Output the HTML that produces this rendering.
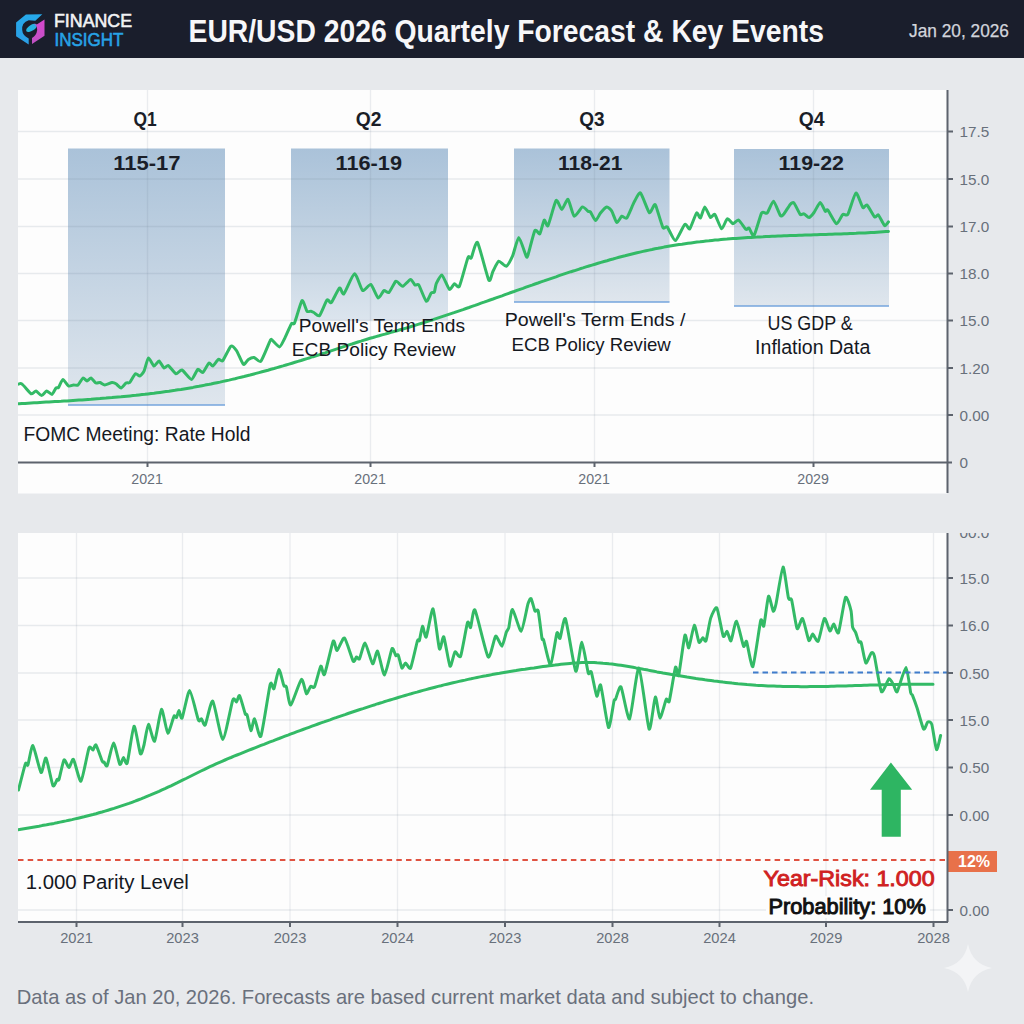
<!DOCTYPE html>
<html><head><meta charset="utf-8"><title>EUR/USD 2026 Forecast</title>
<style>html,body{margin:0;padding:0;width:1024px;height:1024px;overflow:hidden;background:#e7e9ec;font-family:"Liberation Sans",sans-serif;} svg{display:block;}</style>
</head><body>
<svg width="1024" height="1024" viewBox="0 0 1024 1024">
<rect x="0" y="0" width="1024" height="1024" fill="#e7e9ec"/>
<rect x="0" y="0" width="1024" height="58" fill="#1a1e2c"/>
<defs><linearGradient id="lgB" x1="0" y1="0" x2="0" y2="1"><stop offset="0" stop-color="#26a9ea"/><stop offset="1" stop-color="#2b9ee6"/></linearGradient><linearGradient id="lgM" x1="0" y1="0" x2="0" y2="1"><stop offset="0" stop-color="#d847cf"/><stop offset="1" stop-color="#bf52c3"/></linearGradient><linearGradient id="lgL" x1="0" y1="0" x2="1" y2="0"><stop offset="0" stop-color="#22b8e2"/><stop offset="0.8" stop-color="#2ab0e0"/><stop offset="1" stop-color="#c74bc8"/></linearGradient></defs>
<path d="M16.1,22.5 L25.9,14.6 L42.3,14.3 L35.3,20.7 L28.7,20.2 Q21.5,22.5 22.2,30 Q22.5,35.5 28.7,38.5 L28.7,44.6 L16.1,36.3 Z" fill="url(#lgB)"/>
<path d="M36,24.9 L44.5,19.5 L44.5,35.7 L32,44.1 L32,38 Q36.5,35.5 37.2,30 Q37.5,27 36,24.9 Z" fill="url(#lgM)"/>
<ellipse cx="31.6" cy="27.9" rx="6.2" ry="2.9" transform="rotate(-33 31.6 27.9)" fill="url(#lgL)"/>
<text x="54" y="26.6" font-family='"Liberation Sans", sans-serif' font-size="17.5" fill="#f2f3f5" stroke="#f2f3f5" stroke-width="0.55" textLength="78" lengthAdjust="spacingAndGlyphs">FINANCE</text>
<text x="54.5" y="45.6" font-family='"Liberation Sans", sans-serif' font-size="17.5" fill="#27a3e6" stroke="#27a3e6" stroke-width="0.55" textLength="69" lengthAdjust="spacingAndGlyphs">INSIGHT</text>
<text x="188.5" y="41.6" font-family='"Liberation Sans", sans-serif' font-size="31.3" font-weight="bold" fill="#f7f7f9" textLength="635.5" lengthAdjust="spacingAndGlyphs">EUR/USD 2026 Quartely Forecast &amp; Key Events</text>
<text x="909" y="37.4" font-family='"Liberation Sans", sans-serif' font-size="17.7" fill="#d2d5dc" stroke="#d2d5dc" stroke-width="0.25" textLength="100"  lengthAdjust="spacingAndGlyphs">Jan 20, 2026</text>
<defs><clipPath id="cpT"><rect x="18" y="90" width="929" height="372"/></clipPath><clipPath id="cpB"><rect x="18" y="533" width="929" height="389"/></clipPath><clipPath id="cpL"><rect x="940" y="533" width="84" height="491"/></clipPath><linearGradient id="bx" x1="0" y1="0" x2="0" y2="1"><stop offset="0" stop-color="#aac2d9"/><stop offset="1" stop-color="#dfe6ed"/></linearGradient><linearGradient id="bx2" x1="0" y1="0" x2="0" y2="1"><stop offset="0" stop-color="#aac2d9"/><stop offset="0.7" stop-color="#cad8e5"/><stop offset="1" stop-color="#dce5ee"/></linearGradient></defs>
<rect x="18" y="90" width="929" height="403.5" fill="#fdfdfd"/>
<rect x="68" y="148.5" width="157" height="256.5" fill="url(#bx)"/>
<line x1="68" y1="405" x2="225" y2="405" stroke="#74a5dc" stroke-width="1.6"/>
<rect x="291" y="148.5" width="157" height="172" fill="url(#bx2)"/>
<rect x="514" y="148.5" width="155.5" height="153.5" fill="url(#bx)"/>
<line x1="514" y1="302" x2="669.5" y2="302" stroke="#74a5dc" stroke-width="1.6"/>
<rect x="734" y="149" width="155" height="157" fill="url(#bx)"/>
<line x1="734" y1="306" x2="889" y2="306" stroke="#74a5dc" stroke-width="1.6"/>
<line x1="18" y1="131.5" x2="947" y2="131.5" stroke="rgba(110,125,145,0.15)" stroke-width="1.3"/><line x1="18" y1="179" x2="947" y2="179" stroke="rgba(110,125,145,0.15)" stroke-width="1.3"/><line x1="18" y1="226.5" x2="947" y2="226.5" stroke="rgba(110,125,145,0.15)" stroke-width="1.3"/><line x1="18" y1="273.5" x2="947" y2="273.5" stroke="rgba(110,125,145,0.15)" stroke-width="1.3"/><line x1="18" y1="320.5" x2="947" y2="320.5" stroke="rgba(110,125,145,0.15)" stroke-width="1.3"/><line x1="18" y1="368" x2="947" y2="368" stroke="rgba(110,125,145,0.15)" stroke-width="1.3"/><line x1="18" y1="415" x2="947" y2="415" stroke="rgba(110,125,145,0.15)" stroke-width="1.3"/>
<line x1="147.5" y1="90" x2="147.5" y2="462" stroke="rgba(110,125,145,0.13)" stroke-width="1.3"/><line x1="370.5" y1="90" x2="370.5" y2="462" stroke="rgba(110,125,145,0.13)" stroke-width="1.3"/><line x1="594.5" y1="90" x2="594.5" y2="462" stroke="rgba(110,125,145,0.13)" stroke-width="1.3"/><line x1="813.5" y1="90" x2="813.5" y2="462" stroke="rgba(110,125,145,0.13)" stroke-width="1.3"/>
<text x="133.39999999999998" y="125.6" font-family='"Liberation Sans", sans-serif' font-size="21" font-weight="bold" fill="#1a1e28" textLength="23.200000000000006" lengthAdjust="spacingAndGlyphs">Q1</text>
<text x="355.8" y="125.6" font-family='"Liberation Sans", sans-serif' font-size="21" font-weight="bold" fill="#1a1e28" textLength="25.699999999999978" lengthAdjust="spacingAndGlyphs">Q2</text>
<text x="579.2" y="125.6" font-family='"Liberation Sans", sans-serif' font-size="21" font-weight="bold" fill="#1a1e28" textLength="25.400000000000023" lengthAdjust="spacingAndGlyphs">Q3</text>
<text x="798.7" y="125.6" font-family='"Liberation Sans", sans-serif' font-size="21" font-weight="bold" fill="#1a1e28" textLength="25.8" lengthAdjust="spacingAndGlyphs">Q4</text>
<text x="113.2" y="169.5" font-family='"Liberation Sans", sans-serif' font-size="21" font-weight="bold" fill="#1a1e28" textLength="67.39999999999999" lengthAdjust="spacingAndGlyphs">115-17</text>
<text x="335.6" y="169.5" font-family='"Liberation Sans", sans-serif' font-size="21" font-weight="bold" fill="#1a1e28" textLength="66.39999999999998" lengthAdjust="spacingAndGlyphs">116-19</text>
<text x="558" y="169.5" font-family='"Liberation Sans", sans-serif' font-size="21" font-weight="bold" fill="#1a1e28" textLength="64.5" lengthAdjust="spacingAndGlyphs">118-21</text>
<text x="778.5" y="169.5" font-family='"Liberation Sans", sans-serif' font-size="21" font-weight="bold" fill="#1a1e28" textLength="65.5" lengthAdjust="spacingAndGlyphs">119-22</text>
<g clip-path="url(#cpT)">
<path d="M16.0,403.9 L19.0,403.7 L22.0,403.5 L25.0,403.4 L28.0,403.2 L31.0,403.0 L34.0,402.8 L37.0,402.7 L40.0,402.5 L43.0,402.3 L46.0,402.1 L49.0,402.0 L52.0,401.8 L55.0,401.6 L58.0,401.4 L61.0,401.3 L64.0,401.1 L67.0,400.9 L70.0,400.7 L73.0,400.5 L76.0,400.3 L79.0,400.1 L82.0,399.9 L85.0,399.7 L88.0,399.5 L91.0,399.3 L94.0,399.0 L97.0,398.8 L100.0,398.6 L103.0,398.3 L106.0,398.1 L109.0,397.8 L112.0,397.6 L115.0,397.3 L118.0,397.0 L121.0,396.8 L124.0,396.5 L127.0,396.2 L130.0,395.9 L133.0,395.6 L136.0,395.3 L139.0,394.9 L142.0,394.6 L145.0,394.3 L148.0,393.9 L151.0,393.5 L154.0,393.2 L157.0,392.8 L160.0,392.4 L163.0,392.0 L166.0,391.6 L169.0,391.2 L172.0,390.7 L175.0,390.3 L178.0,389.8 L181.0,389.4 L184.0,388.9 L187.0,388.4 L190.0,387.9 L193.0,387.4 L196.0,386.8 L199.0,386.3 L202.0,385.7 L205.0,385.1 L208.0,384.6 L211.0,384.0 L214.0,383.3 L217.0,382.7 L220.0,382.1 L223.0,381.4 L226.0,380.7 L229.0,380.1 L232.0,379.4 L235.0,378.7 L238.0,377.9 L241.0,377.2 L244.0,376.5 L247.0,375.7 L250.0,375.0 L253.0,374.2 L256.0,373.4 L259.0,372.6 L262.0,371.8 L265.0,371.0 L268.0,370.2 L271.0,369.3 L274.0,368.5 L277.0,367.6 L280.0,366.7 L283.0,365.9 L286.0,365.0 L289.0,364.1 L292.0,363.2 L295.0,362.3 L298.0,361.4 L301.0,360.5 L304.0,359.5 L307.0,358.6 L310.0,357.7 L313.0,356.7 L316.0,355.8 L319.0,354.8 L322.0,353.8 L325.0,352.9 L328.0,351.9 L331.0,350.9 L334.0,349.9 L337.0,348.9 L340.0,347.9 L343.0,346.9 L346.0,345.9 L349.0,344.9 L352.0,344.0 L355.0,343.0 L358.0,342.0 L361.0,341.1 L364.0,340.1 L367.0,339.2 L370.0,338.3 L373.0,337.5 L376.0,336.6 L379.0,335.8 L382.0,334.9 L385.0,334.1 L388.0,333.2 L391.0,332.4 L394.0,331.5 L397.0,330.7 L400.0,329.8 L403.0,329.0 L406.0,328.1 L409.0,327.2 L412.0,326.3 L415.0,325.4 L418.0,324.4 L421.0,323.5 L424.0,322.6 L427.0,321.6 L430.0,320.6 L433.0,319.7 L436.0,318.7 L439.0,317.7 L442.0,316.7 L445.0,315.7 L448.0,314.7 L451.0,313.7 L454.0,312.7 L457.0,311.6 L460.0,310.6 L463.0,309.6 L466.0,308.5 L469.0,307.5 L472.0,306.4 L475.0,305.4 L478.0,304.3 L481.0,303.2 L484.0,302.2 L487.0,301.1 L490.0,300.0 L493.0,299.0 L496.0,297.9 L499.0,296.8 L502.0,295.8 L505.0,294.7 L508.0,293.6 L511.0,292.5 L514.0,291.5 L517.0,290.4 L520.0,289.3 L523.0,288.3 L526.0,287.2 L529.0,286.1 L532.0,285.1 L535.0,284.0 L538.0,283.0 L541.0,281.9 L544.0,280.9 L547.0,279.8 L550.0,278.8 L553.0,277.8 L556.0,276.8 L559.0,275.7 L562.0,274.7 L565.0,273.7 L568.0,272.7 L571.0,271.7 L574.0,270.8 L577.0,269.8 L580.0,268.8 L583.0,267.9 L586.0,266.9 L589.0,266.0 L592.0,265.1 L595.0,264.2 L598.0,263.3 L601.0,262.4 L604.0,261.5 L607.0,260.7 L610.0,259.8 L613.0,259.0 L616.0,258.1 L619.0,257.3 L622.0,256.5 L625.0,255.8 L628.0,255.0 L631.0,254.2 L634.0,253.5 L637.0,252.8 L640.0,252.1 L643.0,251.4 L646.0,250.7 L649.0,250.1 L652.0,249.5 L655.0,248.8 L658.0,248.3 L661.0,247.7 L664.0,247.1 L667.0,246.6 L670.0,246.1 L673.0,245.6 L676.0,245.1 L679.0,244.6 L682.0,244.2 L685.0,243.7 L688.0,243.3 L691.0,242.9 L694.0,242.5 L697.0,242.1 L700.0,241.8 L703.0,241.4 L706.0,241.1 L709.0,240.8 L712.0,240.4 L715.0,240.1 L718.0,239.9 L721.0,239.6 L724.0,239.3 L727.0,239.1 L730.0,238.8 L733.0,238.6 L736.0,238.4 L739.0,238.2 L742.0,238.0 L745.0,237.8 L748.0,237.6 L751.0,237.4 L754.0,237.2 L757.0,237.1 L760.0,236.9 L763.0,236.8 L766.0,236.6 L769.0,236.5 L772.0,236.3 L775.0,236.2 L778.0,236.1 L781.0,236.0 L784.0,235.8 L787.0,235.7 L790.0,235.6 L793.0,235.5 L796.0,235.4 L799.0,235.3 L802.0,235.2 L805.0,235.1 L808.0,235.0 L811.0,234.9 L814.0,234.8 L817.0,234.7 L820.0,234.6 L823.0,234.5 L826.0,234.4 L829.0,234.3 L832.0,234.2 L835.0,234.1 L838.0,234.0 L841.0,233.9 L844.0,233.8 L847.0,233.7 L850.0,233.5 L853.0,233.4 L856.0,233.3 L859.0,233.1 L862.0,233.0 L865.0,232.9 L868.0,232.7 L871.0,232.5 L874.0,232.4 L877.0,232.2 L880.0,232.0 L883.0,231.8 L886.0,231.6 L888.4,231.4" fill="none" stroke="#33ba66" stroke-width="3" stroke-linecap="round" stroke-linejoin="round"/>
<path d="M16.0,385.0 C16.6,384.9 20.1,382.9 21.6,383.8 C23.1,384.6 29.6,393.0 31.0,393.8 C32.4,394.5 34.9,390.8 36.0,391.0 C37.1,391.2 40.5,395.6 41.6,395.6 C42.7,395.6 45.6,391.1 46.6,391.0 C47.6,390.9 51.1,394.7 52.0,394.4 C52.9,394.1 55.4,388.7 56.0,388.0 C56.6,387.3 57.8,388.4 58.5,387.5 C59.2,386.6 61.9,379.5 62.9,379.4 C63.9,379.2 67.4,385.4 68.5,386.0 C69.6,386.6 72.5,385.1 73.5,385.0 C74.5,384.9 77.0,385.7 78.0,385.0 C79.0,384.3 82.1,378.4 83.0,378.0 C83.9,377.6 86.2,381.0 87.0,381.0 C87.8,381.0 90.1,377.8 91.0,378.0 C91.9,378.2 95.1,382.6 96.0,383.0 C96.9,383.4 99.1,382.3 100.0,382.5 C100.9,382.7 103.5,385.0 104.8,385.0 C106.0,385.0 110.9,382.6 112.0,382.5 C113.1,382.4 115.1,383.2 116.0,383.8 C116.9,384.3 120.0,388.1 121.0,388.0 C122.0,387.9 125.1,383.6 126.0,383.0 C126.9,382.4 128.8,383.4 129.8,382.5 C130.7,381.6 134.4,374.4 135.4,373.8 C136.4,373.1 138.9,376.2 139.8,376.0 C140.6,375.8 143.1,373.1 144.0,371.2 C144.9,369.4 147.4,358.5 148.4,358.0 C149.4,357.5 152.9,365.7 154.0,366.0 C155.1,366.3 158.0,360.8 159.0,361.0 C160.0,361.2 163.1,367.5 164.0,368.0 C164.9,368.5 167.2,365.0 168.4,365.6 C169.6,366.2 174.6,373.3 176.0,373.8 C177.4,374.2 180.4,369.4 182.0,370.0 C183.6,370.6 189.9,379.5 191.5,379.4 C193.1,379.3 196.6,370.1 197.8,369.4 C198.9,368.7 201.6,373.1 202.8,372.5 C203.9,371.9 208.0,363.6 209.0,363.0 C210.0,362.4 211.8,366.4 212.8,366.0 C213.7,365.6 217.4,359.9 218.4,359.4 C219.4,358.9 221.5,361.9 222.8,360.6 C224.0,359.3 229.5,347.2 230.9,346.2 C232.3,345.2 235.2,348.8 236.5,350.6 C237.8,352.4 242.2,363.5 243.4,364.4 C244.6,365.3 247.3,360.1 248.4,359.4 C249.5,358.7 252.8,357.3 254.0,357.5 C255.2,357.7 259.3,362.9 260.9,361.2 C262.5,359.6 269.1,342.7 270.2,340.6 C271.4,338.5 271.1,339.4 272.0,340.0 C272.9,340.6 278.2,347.0 279.5,346.9 C280.8,346.8 283.3,341.1 284.5,338.8 C285.7,336.4 290.4,325.3 291.4,323.8 C292.4,322.2 293.4,325.3 294.5,323.0 C295.6,320.7 300.8,301.8 302.0,300.6 C303.2,299.4 306.1,310.2 307.0,311.2 C307.9,312.3 310.1,311.1 310.8,311.2 C311.4,311.4 313.0,312.1 313.9,312.5 C314.8,312.9 318.2,316.9 319.5,315.6 C320.8,314.4 325.8,301.3 327.0,300.0 C328.2,298.7 330.1,303.7 331.4,302.5 C332.6,301.3 338.2,288.9 339.5,288.0 C340.8,287.1 342.4,295.2 343.9,293.8 C345.4,292.3 352.6,274.1 354.5,273.8 C356.4,273.4 361.0,289.5 362.6,290.6 C364.2,291.7 369.2,283.7 370.8,284.4 C372.3,285.1 376.9,297.4 378.2,298.0 C379.6,298.6 382.8,291.2 383.9,290.6 C385.0,290.1 387.7,293.4 388.9,292.5 C390.1,291.6 394.6,282.1 395.8,281.2 C396.9,280.4 399.3,283.9 400.0,284.4 C400.7,284.9 401.9,286.8 403.0,286.2 C404.1,285.8 409.4,279.5 410.6,279.4 C411.8,279.3 414.2,284.4 415.0,285.0 C415.8,285.6 417.6,283.4 418.8,285.0 C419.9,286.6 425.0,300.4 426.2,301.2 C427.5,302.1 430.4,293.9 431.2,293.0 C432.1,292.1 433.9,292.8 434.4,291.9 C434.9,291.0 435.5,285.4 436.2,283.8 C437.0,282.1 440.6,274.4 441.9,275.0 C443.2,275.6 448.1,288.5 449.4,289.4 C450.6,290.3 453.4,284.1 454.4,283.8 C455.4,283.4 458.0,288.9 459.4,286.2 C460.8,283.6 466.8,260.3 468.0,257.5 C469.2,254.7 470.3,259.5 471.2,258.0 C472.2,256.5 475.8,240.3 477.5,242.5 C479.2,244.7 487.2,277.1 488.8,280.0 C490.3,282.9 492.0,273.1 493.0,271.2 C494.0,269.4 497.4,261.8 498.8,261.2 C500.1,260.8 504.9,266.8 506.2,266.2 C507.6,265.8 511.2,259.1 512.5,256.2 C513.8,253.4 517.4,237.5 518.8,237.5 C520.1,237.5 525.3,254.5 526.2,256.2 C527.2,258.0 527.1,257.6 528.0,255.0 C528.9,252.4 533.7,232.7 534.9,230.6 C536.1,228.5 539.0,234.8 539.9,233.8 C540.8,232.7 543.4,220.8 544.2,220.0 C545.1,219.2 546.8,227.5 548.0,225.6 C549.2,223.7 554.7,202.2 556.1,200.6 C557.5,199.0 560.6,209.5 561.8,209.4 C562.9,209.3 566.8,198.7 568.0,199.4 C569.2,200.1 572.8,215.5 574.2,216.2 C575.7,217.0 581.0,207.4 582.4,206.9 C583.8,206.4 587.2,210.7 588.0,211.2 C588.8,211.8 589.8,211.1 590.5,212.0 C591.2,212.9 594.5,220.5 595.5,220.6 C596.5,220.7 599.4,214.4 600.5,213.0 C601.6,211.6 605.6,207.1 606.8,206.9 C607.9,206.7 610.8,209.7 611.8,211.2 C612.8,212.8 615.8,222.0 616.8,222.5 C617.8,223.0 620.8,216.7 621.8,216.2 C622.8,215.8 625.5,219.4 626.8,218.0 C628.0,216.6 632.9,204.4 634.2,201.9 C635.6,199.4 639.0,191.9 640.5,193.0 C642.0,194.1 647.9,211.3 649.2,212.5 C650.6,213.7 653.6,205.6 654.2,205.0 C654.9,204.4 655.1,204.0 656.0,206.2 C656.9,208.5 661.8,225.4 662.9,227.5 C664.0,229.6 666.0,225.6 667.2,226.9 C668.5,228.2 673.6,240.8 675.4,240.6 C677.1,240.3 683.3,225.6 684.8,224.4 C686.2,223.2 688.6,229.9 689.8,228.8 C690.9,227.6 695.5,214.1 696.6,213.0 C697.7,211.9 699.6,218.6 700.4,218.0 C701.2,217.4 703.8,207.0 704.8,206.9 C705.8,206.8 709.4,216.8 710.4,217.5 C711.4,218.2 713.6,213.3 714.8,214.4 C715.9,215.5 720.4,228.3 721.6,228.8 C722.9,229.2 726.1,219.2 727.2,218.8 C728.4,218.2 731.8,223.6 732.9,223.8 C734.0,223.9 737.2,219.4 738.5,220.0 C739.8,220.6 745.0,228.6 746.0,229.4 C747.0,230.2 748.2,227.4 749.0,228.0 C749.8,228.6 752.7,237.1 754.0,235.6 C755.3,234.1 760.3,215.3 761.6,213.0 C762.9,210.7 766.1,214.2 767.2,213.0 C768.4,211.8 772.2,201.0 773.5,201.2 C774.8,201.5 779.4,214.3 780.4,215.6 C781.4,216.8 783.0,214.9 784.0,213.8 C785.0,212.6 789.2,205.5 790.2,204.4 C791.2,203.3 793.0,202.0 794.0,203.0 C795.0,204.0 799.2,213.3 800.2,214.4 C801.2,215.5 803.1,213.4 804.0,213.8 C804.9,214.1 808.0,217.6 809.0,217.5 C810.0,217.4 812.9,214.0 814.0,212.5 C815.1,211.0 819.1,202.6 820.2,202.5 C821.4,202.4 824.5,210.5 825.2,211.2 C826.0,212.0 826.6,208.8 827.8,210.0 C828.9,211.2 835.0,223.3 836.5,223.8 C838.0,224.2 841.6,215.3 842.8,214.4 C843.9,213.5 846.4,216.5 847.8,214.4 C849.1,212.3 854.4,193.7 855.9,193.0 C857.4,192.3 861.6,206.3 862.8,207.5 C863.9,208.7 865.8,204.1 867.0,205.0 C868.2,205.9 873.5,215.9 874.6,216.9 C875.7,217.9 877.4,214.1 878.4,215.0 C879.4,215.9 883.6,224.9 884.6,225.6 C885.6,226.3 888.0,222.3 888.4,221.9" fill="none" stroke="#33ba66" stroke-width="3" stroke-linecap="round" stroke-linejoin="round"/>
</g>
<text x="23.5" y="441.1" font-family='"Liberation Sans", sans-serif' font-size="20.5" font-weight="normal" fill="#15181f" textLength="226.9" lengthAdjust="spacingAndGlyphs">FOMC Meeting: Rate Hold</text>
<text x="298.8" y="331.9" font-family='"Liberation Sans", sans-serif' font-size="19" font-weight="normal" fill="#15181f" textLength="166.2" lengthAdjust="spacingAndGlyphs">Powell's Term Ends</text>
<text x="291.8" y="356.4" font-family='"Liberation Sans", sans-serif' font-size="19" font-weight="normal" fill="#15181f" textLength="163.89999999999998" lengthAdjust="spacingAndGlyphs">ECB Policy Review</text>
<text x="504.7" y="325.5" font-family='"Liberation Sans", sans-serif' font-size="19" font-weight="normal" fill="#15181f" textLength="180.7" lengthAdjust="spacingAndGlyphs">Powell's Term Ends /</text>
<text x="511.6" y="350.9" font-family='"Liberation Sans", sans-serif' font-size="19" font-weight="normal" fill="#15181f" textLength="159.19999999999993" lengthAdjust="spacingAndGlyphs">ECB Policy Review</text>
<text x="767.5" y="330" font-family='"Liberation Sans", sans-serif' font-size="19.5" font-weight="normal" fill="#15181f" textLength="85.20000000000005" lengthAdjust="spacingAndGlyphs">US GDP &amp;</text>
<text x="755.1" y="354.2" font-family='"Liberation Sans", sans-serif' font-size="19.5" font-weight="normal" fill="#15181f" textLength="115.19999999999993" lengthAdjust="spacingAndGlyphs">Inflation Data</text>
<line x1="18" y1="462.5" x2="952" y2="462.5" stroke="#5d636d" stroke-width="2"/>
<line x1="947.5" y1="90" x2="947.5" y2="493" stroke="#5d636d" stroke-width="2"/>
<line x1="947" y1="131.5" x2="953" y2="131.5" stroke="#5d636d" stroke-width="2"/>
<line x1="947" y1="179" x2="953" y2="179" stroke="#5d636d" stroke-width="2"/>
<line x1="947" y1="226.5" x2="953" y2="226.5" stroke="#5d636d" stroke-width="2"/>
<line x1="947" y1="273.5" x2="953" y2="273.5" stroke="#5d636d" stroke-width="2"/>
<line x1="947" y1="320.5" x2="953" y2="320.5" stroke="#5d636d" stroke-width="2"/>
<line x1="947" y1="368" x2="953" y2="368" stroke="#5d636d" stroke-width="2"/>
<line x1="947" y1="415" x2="953" y2="415" stroke="#5d636d" stroke-width="2"/>
<line x1="147.5" y1="462" x2="147.5" y2="467" stroke="#5d636d" stroke-width="2"/>
<line x1="370.5" y1="462" x2="370.5" y2="467" stroke="#5d636d" stroke-width="2"/>
<line x1="594.5" y1="462" x2="594.5" y2="467" stroke="#5d636d" stroke-width="2"/>
<line x1="813.5" y1="462" x2="813.5" y2="467" stroke="#5d636d" stroke-width="2"/>
<text x="959.5" y="137.2" font-family='"Liberation Sans", sans-serif' font-size="15.3" fill="#68707b">17.5</text>
<text x="959.5" y="184.7" font-family='"Liberation Sans", sans-serif' font-size="15.3" fill="#68707b">15.0</text>
<text x="959.5" y="232.2" font-family='"Liberation Sans", sans-serif' font-size="15.3" fill="#68707b">17.0</text>
<text x="959.5" y="279.2" font-family='"Liberation Sans", sans-serif' font-size="15.3" fill="#68707b">18.0</text>
<text x="959.5" y="326.2" font-family='"Liberation Sans", sans-serif' font-size="15.3" fill="#68707b">15.0</text>
<text x="959.5" y="373.7" font-family='"Liberation Sans", sans-serif' font-size="15.3" fill="#68707b">1.20</text>
<text x="959.5" y="420.7" font-family='"Liberation Sans", sans-serif' font-size="15.3" fill="#68707b">0.00</text>
<text x="959.5" y="468.2" font-family='"Liberation Sans", sans-serif' font-size="15.3" fill="#68707b">0</text>
<text x="131.3" y="483.9" font-family='"Liberation Sans", sans-serif' font-size="15" fill="#68707b" textLength="31.6" lengthAdjust="spacingAndGlyphs">2021</text>
<text x="354.3" y="483.9" font-family='"Liberation Sans", sans-serif' font-size="15" fill="#68707b" textLength="31.6" lengthAdjust="spacingAndGlyphs">2021</text>
<text x="578.3" y="483.9" font-family='"Liberation Sans", sans-serif' font-size="15" fill="#68707b" textLength="31.6" lengthAdjust="spacingAndGlyphs">2021</text>
<text x="797.3" y="483.9" font-family='"Liberation Sans", sans-serif' font-size="15" fill="#68707b" textLength="31.6" lengthAdjust="spacingAndGlyphs">2029</text>
<rect x="18" y="533" width="929" height="389" fill="#fdfdfd"/>
<line x1="18" y1="578" x2="947" y2="578" stroke="rgba(110,125,145,0.15)" stroke-width="1.3"/><line x1="18" y1="625.5" x2="947" y2="625.5" stroke="rgba(110,125,145,0.15)" stroke-width="1.3"/><line x1="18" y1="673" x2="947" y2="673" stroke="rgba(110,125,145,0.15)" stroke-width="1.3"/><line x1="18" y1="720" x2="947" y2="720" stroke="rgba(110,125,145,0.15)" stroke-width="1.3"/><line x1="18" y1="767.5" x2="947" y2="767.5" stroke="rgba(110,125,145,0.15)" stroke-width="1.3"/><line x1="18" y1="815" x2="947" y2="815" stroke="rgba(110,125,145,0.15)" stroke-width="1.3"/><line x1="18" y1="910" x2="947" y2="910" stroke="rgba(110,125,145,0.15)" stroke-width="1.3"/>
<line x1="76.5" y1="533" x2="76.5" y2="922" stroke="rgba(110,125,145,0.13)" stroke-width="1.3"/><line x1="182.5" y1="533" x2="182.5" y2="922" stroke="rgba(110,125,145,0.13)" stroke-width="1.3"/><line x1="290" y1="533" x2="290" y2="922" stroke="rgba(110,125,145,0.13)" stroke-width="1.3"/><line x1="397.5" y1="533" x2="397.5" y2="922" stroke="rgba(110,125,145,0.13)" stroke-width="1.3"/><line x1="505" y1="533" x2="505" y2="922" stroke="rgba(110,125,145,0.13)" stroke-width="1.3"/><line x1="612.5" y1="533" x2="612.5" y2="922" stroke="rgba(110,125,145,0.13)" stroke-width="1.3"/><line x1="719.5" y1="533" x2="719.5" y2="922" stroke="rgba(110,125,145,0.13)" stroke-width="1.3"/><line x1="826" y1="533" x2="826" y2="922" stroke="rgba(110,125,145,0.13)" stroke-width="1.3"/><line x1="933.5" y1="533" x2="933.5" y2="922" stroke="rgba(110,125,145,0.13)" stroke-width="1.3"/>
<g clip-path="url(#cpB)">
<path d="M18.0,829.7 L21.0,829.2 L24.0,828.7 L27.0,828.2 L30.0,827.7 L33.0,827.2 L36.0,826.7 L39.0,826.2 L42.0,825.6 L45.0,825.1 L48.0,824.5 L51.0,823.9 L54.0,823.4 L57.0,822.8 L60.0,822.1 L63.0,821.5 L66.0,820.9 L69.0,820.2 L72.0,819.6 L75.0,818.9 L78.0,818.2 L81.0,817.5 L84.0,816.8 L87.0,816.0 L90.0,815.2 L93.0,814.5 L96.0,813.7 L99.0,812.8 L102.0,812.0 L105.0,811.1 L108.0,810.2 L111.0,809.3 L114.0,808.4 L117.0,807.4 L120.0,806.4 L123.0,805.4 L126.0,804.4 L129.0,803.4 L132.0,802.3 L135.0,801.2 L138.0,800.0 L141.0,798.9 L144.0,797.7 L147.0,796.4 L150.0,795.2 L153.0,793.9 L156.0,792.6 L159.0,791.3 L162.0,789.9 L165.0,788.6 L168.0,787.2 L171.0,785.8 L174.0,784.3 L177.0,782.9 L180.0,781.4 L183.0,779.9 L186.0,778.5 L189.0,777.0 L192.0,775.5 L195.0,774.0 L198.0,772.5 L201.0,771.0 L204.0,769.6 L207.0,768.1 L210.0,766.7 L213.0,765.3 L216.0,763.9 L219.0,762.6 L222.0,761.3 L225.0,760.0 L228.0,758.7 L231.0,757.5 L234.0,756.2 L237.0,755.0 L240.0,753.8 L243.0,752.6 L246.0,751.4 L249.0,750.2 L252.0,749.0 L255.0,747.8 L258.0,746.6 L261.0,745.4 L264.0,744.3 L267.0,743.1 L270.0,741.9 L273.0,740.8 L276.0,739.6 L279.0,738.5 L282.0,737.3 L285.0,736.2 L288.0,735.1 L291.0,733.9 L294.0,732.8 L297.0,731.7 L300.0,730.6 L303.0,729.5 L306.0,728.4 L309.0,727.3 L312.0,726.2 L315.0,725.1 L318.0,724.0 L321.0,722.9 L324.0,721.9 L327.0,720.8 L330.0,719.8 L333.0,718.7 L336.0,717.7 L339.0,716.6 L342.0,715.6 L345.0,714.6 L348.0,713.5 L351.0,712.5 L354.0,711.5 L357.0,710.5 L360.0,709.5 L363.0,708.6 L366.0,707.6 L369.0,706.6 L372.0,705.6 L375.0,704.7 L378.0,703.7 L381.0,702.8 L384.0,701.8 L387.0,700.9 L390.0,700.0 L393.0,699.1 L396.0,698.2 L399.0,697.3 L402.0,696.4 L405.0,695.5 L408.0,694.6 L411.0,693.8 L414.0,692.9 L417.0,692.1 L420.0,691.2 L423.0,690.4 L426.0,689.6 L429.0,688.8 L432.0,688.0 L435.0,687.2 L438.0,686.4 L441.0,685.7 L444.0,684.9 L447.0,684.2 L450.0,683.5 L453.0,682.8 L456.0,682.1 L459.0,681.4 L462.0,680.7 L465.0,680.1 L468.0,679.4 L471.0,678.8 L474.0,678.1 L477.0,677.5 L480.0,676.9 L483.0,676.3 L486.0,675.8 L489.0,675.2 L492.0,674.6 L495.0,674.1 L498.0,673.6 L501.0,673.0 L504.0,672.5 L507.0,672.0 L510.0,671.5 L513.0,671.0 L516.0,670.6 L519.0,670.1 L522.0,669.6 L525.0,669.2 L528.0,668.7 L531.0,668.3 L534.0,667.9 L537.0,667.4 L540.0,667.0 L543.0,666.6 L546.0,666.2 L549.0,665.8 L552.0,665.4 L555.0,665.1 L558.0,664.7 L561.0,664.3 L564.0,664.0 L567.0,663.7 L570.0,663.4 L573.0,663.1 L576.0,662.9 L579.0,662.7 L582.0,662.6 L585.0,662.5 L588.0,662.5 L591.0,662.5 L594.0,662.6 L597.0,662.8 L600.0,662.9 L603.0,663.2 L606.0,663.4 L609.0,663.8 L612.0,664.1 L615.0,664.5 L618.0,664.9 L621.0,665.3 L624.0,665.8 L627.0,666.3 L630.0,666.8 L633.0,667.3 L636.0,667.9 L639.0,668.4 L642.0,669.0 L645.0,669.6 L648.0,670.1 L651.0,670.7 L654.0,671.3 L657.0,671.9 L660.0,672.4 L663.0,673.0 L666.0,673.5 L669.0,674.0 L672.0,674.6 L675.0,675.1 L678.0,675.6 L681.0,676.1 L684.0,676.6 L687.0,677.1 L690.0,677.5 L693.0,678.0 L696.0,678.5 L699.0,678.9 L702.0,679.3 L705.0,679.8 L708.0,680.2 L711.0,680.6 L714.0,681.0 L717.0,681.3 L720.0,681.7 L723.0,682.1 L726.0,682.4 L729.0,682.7 L732.0,683.1 L735.0,683.4 L738.0,683.7 L741.0,683.9 L744.0,684.2 L747.0,684.5 L750.0,684.7 L753.0,684.9 L756.0,685.2 L759.0,685.4 L762.0,685.5 L765.0,685.7 L768.0,685.9 L771.0,686.0 L774.0,686.1 L777.0,686.2 L780.0,686.3 L783.0,686.4 L786.0,686.5 L789.0,686.6 L792.0,686.6 L795.0,686.6 L798.0,686.6 L801.0,686.7 L804.0,686.7 L807.0,686.7 L810.0,686.6 L813.0,686.6 L816.0,686.6 L819.0,686.5 L822.0,686.5 L825.0,686.4 L828.0,686.4 L831.0,686.3 L834.0,686.2 L837.0,686.1 L840.0,686.1 L843.0,686.0 L846.0,685.9 L849.0,685.8 L852.0,685.7 L855.0,685.6 L858.0,685.5 L861.0,685.4 L864.0,685.3 L867.0,685.2 L870.0,685.1 L873.0,685.0 L876.0,684.9 L879.0,684.9 L882.0,684.8 L885.0,684.7 L888.0,684.6 L891.0,684.5 L894.0,684.5 L897.0,684.4 L900.0,684.4 L903.0,684.3 L906.0,684.3 L909.0,684.2 L912.0,684.2 L915.0,684.2 L918.0,684.2 L921.0,684.2 L924.0,684.2 L927.0,684.3 L930.0,684.3 L933.0,684.3" fill="none" stroke="#33ba66" stroke-width="3" stroke-linecap="round" stroke-linejoin="round"/>
<path d="M18.5,790.0 C19.2,787.4 24.5,766.2 25.4,763.8 C26.3,761.2 27.1,766.8 27.9,765.0 C28.6,763.2 31.6,744.9 32.9,745.6 C34.2,746.4 39.7,771.3 41.0,772.5 C42.3,773.7 44.8,756.7 46.0,758.0 C47.2,759.3 51.8,783.5 52.9,785.6 C54.0,787.7 56.6,780.0 57.2,779.4 C57.9,778.8 58.3,781.3 59.0,779.4 C59.7,777.5 63.0,761.2 64.0,760.0 C65.0,758.8 68.0,767.6 69.0,767.5 C70.0,767.4 72.3,758.0 73.5,759.4 C74.7,760.8 79.5,782.4 81.0,781.2 C82.5,780.1 87.8,751.1 89.0,748.0 C90.2,744.9 92.2,750.3 92.9,750.0 C93.6,749.7 95.1,743.9 96.0,745.0 C96.9,746.1 101.5,759.5 102.2,761.2 C103.0,763.0 103.5,761.6 104.0,762.0 C104.5,762.4 106.3,767.5 107.2,765.6 C108.2,763.7 112.2,743.1 113.5,743.0 C114.8,742.9 118.8,762.9 119.8,764.4 C120.8,765.9 122.8,757.6 123.5,757.5 C124.2,757.4 126.2,766.1 127.2,763.0 C128.3,759.9 132.7,727.2 134.0,726.2 C135.3,725.3 139.4,751.9 140.4,753.8 C141.4,755.6 143.2,747.9 144.0,745.0 C144.8,742.1 147.3,724.8 148.4,724.4 C149.5,724.0 153.3,742.8 154.6,741.2 C155.9,739.8 160.2,710.2 161.5,709.4 C162.8,708.6 166.5,732.4 167.8,733.1 C169.0,733.8 173.1,717.8 174.0,716.2 C174.9,714.7 176.0,718.1 176.5,717.5 C177.0,716.9 178.4,710.6 179.0,710.6 C179.6,710.6 181.0,720.0 182.1,718.0 C183.2,716.0 188.0,690.4 189.6,690.6 C191.2,690.8 197.2,717.2 198.4,720.0 C199.6,722.8 200.8,718.2 201.5,718.8 C202.2,719.2 204.1,726.8 205.2,725.0 C206.4,723.2 211.0,699.8 212.8,701.2 C214.5,702.7 220.8,739.5 222.8,739.4 C224.8,739.3 231.4,703.8 232.8,700.0 C234.1,696.2 235.8,702.3 236.5,701.9 C237.2,701.5 238.7,694.4 239.6,695.6 C240.5,696.8 244.5,711.8 245.2,713.8 C246.0,715.7 246.5,713.3 247.1,715.0 C247.7,716.7 250.2,730.2 250.9,730.6 C251.7,731.0 253.6,718.2 254.6,718.8 C255.6,719.3 259.3,739.7 260.9,736.2 C262.5,732.8 268.9,689.1 270.2,684.4 C271.6,679.6 273.0,690.2 273.9,688.8 C274.8,687.2 277.9,669.7 278.9,669.4 C279.9,669.1 283.1,683.9 283.9,685.6 C284.6,687.4 285.7,685.0 286.4,686.9 C287.1,688.8 289.2,705.8 290.8,705.0 C292.2,704.2 299.8,680.5 301.4,679.4 C303.0,678.3 305.5,693.1 306.4,693.8 C307.3,694.4 309.9,686.9 310.8,686.2 C311.6,685.6 313.5,688.9 314.5,686.9 C315.5,684.9 319.8,667.5 320.8,666.2 C321.8,665.0 323.2,676.9 324.5,674.4 C325.8,671.9 332.0,643.6 333.2,641.2 C334.5,638.9 335.9,650.9 337.0,650.6 C338.1,650.3 342.9,636.9 344.5,638.0 C346.1,639.1 352.1,659.4 353.2,661.2 C354.4,663.1 355.8,657.1 356.4,656.9 C357.0,656.6 358.6,660.1 359.5,658.8 C360.4,657.4 363.8,642.6 365.1,643.1 C366.4,643.6 371.4,662.9 372.6,663.8 C373.9,664.6 376.4,650.1 377.6,651.2 C378.8,652.4 383.1,675.2 384.5,675.0 C385.9,674.8 390.9,650.7 392.0,648.8 C393.1,646.8 395.1,655.0 395.8,655.6 C396.4,656.2 397.6,653.8 398.2,655.0 C398.9,656.2 401.2,667.2 401.9,668.0 C402.6,668.8 404.7,663.0 405.6,663.0 C406.5,663.0 409.4,670.2 410.6,668.0 C411.8,665.8 416.6,643.3 417.5,640.6 C418.4,637.9 418.9,642.0 419.4,640.6 C419.9,639.2 421.8,626.6 422.5,626.2 C423.2,625.9 425.2,638.8 426.2,637.0 C427.3,635.2 431.8,607.6 433.1,608.8 C434.4,609.9 438.3,645.9 439.4,648.8 C440.5,651.6 442.7,635.1 443.8,636.9 C444.8,638.6 448.9,664.8 450.0,666.2 C451.1,667.8 453.9,652.9 455.0,651.9 C456.1,650.9 459.4,659.2 460.6,656.2 C461.9,653.3 466.5,625.4 467.5,622.5 C468.5,619.6 469.9,628.8 470.6,627.5 C471.4,626.2 473.2,607.1 475.0,610.0 C476.8,612.9 486.0,654.3 488.1,656.9 C490.2,659.5 494.2,637.3 495.6,636.2 C497.0,635.2 500.8,646.6 501.9,646.2 C503.0,645.9 505.6,634.4 506.2,632.5 C506.9,630.6 508.1,629.8 508.8,627.5 C509.4,625.2 511.2,609.0 512.5,609.4 C513.8,609.8 519.7,631.8 521.2,631.2 C522.8,630.7 527.0,607.0 528.0,603.8 C529.0,600.5 530.4,597.9 531.1,598.6 C531.8,599.3 534.3,609.8 535.0,611.0 C535.7,612.2 537.5,608.3 538.2,611.0 C538.9,613.7 541.5,635.5 542.0,638.4 C542.5,641.3 542.7,637.3 543.6,640.0 C544.5,642.7 549.3,665.7 550.6,665.0 C551.9,664.3 556.0,635.7 556.9,633.0 C557.8,630.3 559.1,639.8 560.0,638.4 C560.9,637.0 563.9,615.6 565.5,618.9 C567.1,622.2 574.1,668.9 575.7,671.2 C577.3,673.6 580.6,642.1 581.9,642.3 C583.1,642.5 587.3,669.8 588.2,672.8 C589.1,675.8 590.4,669.7 591.3,672.0 C592.2,674.3 595.8,694.9 596.8,696.2 C597.7,697.6 599.5,682.2 600.7,685.3 C601.9,688.4 607.2,725.9 608.5,727.5 C609.8,729.1 613.3,703.8 614.0,701.0 C614.7,698.2 614.8,700.8 615.5,699.4 C616.2,698.0 619.6,684.9 621.0,686.9 C622.4,688.9 627.8,720.8 629.6,718.9 C631.4,717.0 636.9,667.1 638.9,668.1 C640.9,669.1 647.5,726.1 649.1,729.0 C650.7,731.9 654.2,698.1 655.3,697.0 C656.4,695.9 658.8,717.9 659.9,718.1 C661.0,718.3 665.3,701.1 666.2,699.4 C667.1,697.7 668.4,704.2 669.3,701.0 C670.2,697.8 674.6,669.9 675.5,667.3 C676.4,664.7 677.8,678.4 678.7,675.2 C679.6,672.0 683.9,638.0 684.9,635.3 C685.9,632.6 687.9,648.8 688.8,647.8 C689.7,646.8 693.3,625.8 694.3,625.2 C695.3,624.7 698.1,641.0 699.0,642.3 C699.9,643.5 702.2,637.9 702.9,637.7 C703.6,637.6 705.2,642.8 706.0,640.8 C706.8,638.8 709.6,621.4 710.7,618.1 C711.8,614.8 715.6,606.2 716.9,608.0 C718.1,609.8 722.2,633.8 723.2,636.1 C724.2,638.4 726.3,630.9 727.1,631.4 C727.9,631.9 730.1,641.8 731.0,640.8 C731.9,639.8 735.2,620.7 736.5,621.2 C737.8,621.8 742.5,644.2 743.5,646.2 C744.5,648.3 745.7,639.6 746.6,641.6 C747.5,643.6 751.5,668.7 752.9,666.6 C754.3,664.5 759.6,624.6 760.7,620.5 C761.8,616.4 763.0,628.4 763.8,626.0 C764.6,623.6 767.6,597.7 768.5,596.2 C769.4,594.8 772.5,610.3 773.2,611.1 C774.0,611.9 775.0,608.4 776.0,604.0 C777.0,599.6 781.8,567.6 783.0,567.0 C784.2,566.4 787.6,594.9 788.5,598.2 C789.4,601.5 790.7,596.7 791.6,599.8 C792.5,602.8 796.0,626.7 797.1,628.6 C798.2,630.5 801.4,617.3 802.6,618.5 C803.8,619.7 807.8,638.8 808.8,640.4 C809.8,642.0 811.8,634.0 812.7,634.1 C813.6,634.2 817.0,642.8 818.2,641.2 C819.4,639.6 823.2,619.5 824.4,618.5 C825.6,617.5 829.0,630.5 829.9,631.0 C830.8,631.5 832.9,623.8 833.8,624.0 C834.7,624.2 837.3,635.3 838.5,632.6 C839.7,629.9 844.2,599.6 845.5,597.4 C846.8,595.2 850.3,607.7 851.0,610.7 C851.7,613.7 852.1,624.9 852.6,627.1 C853.1,629.3 855.1,631.1 855.7,632.6 C856.3,634.1 858.2,641.0 858.8,642.0 C859.3,643.0 860.5,640.6 861.2,642.7 C861.9,644.8 864.8,662.0 865.8,663.0 C866.8,664.0 870.4,653.6 871.3,652.9 C872.2,652.2 873.4,652.1 874.4,656.0 C875.4,659.9 879.9,689.3 881.4,691.6 C882.9,693.9 887.8,679.4 889.0,678.7 C890.2,678.1 892.9,683.8 893.7,685.1 C894.5,686.4 896.0,693.4 897.2,691.6 C898.4,689.8 904.6,667.4 906.0,667.5 C907.4,667.6 910.1,690.0 910.7,692.8 C911.3,695.5 911.8,693.6 912.4,695.1 C913.0,696.6 916.0,704.6 917.1,708.0 C918.2,711.4 922.5,727.7 923.6,729.1 C924.7,730.5 926.9,722.5 927.7,722.0 C928.5,721.5 930.9,721.6 931.8,724.4 C932.7,727.2 935.6,748.5 936.5,749.6 C937.4,750.7 940.2,736.9 940.6,735.5" fill="none" stroke="#33ba66" stroke-width="3" stroke-linecap="round" stroke-linejoin="round"/>
</g>
<line x1="753" y1="672.5" x2="952" y2="672.5" stroke="#3f7ccc" stroke-width="2" stroke-dasharray="5.5 4"/>
<line x1="18" y1="860" x2="947" y2="860" stroke="#e05241" stroke-width="1.8" stroke-dasharray="5.5 4.2"/>
<path d="M890.9,762.5 L912.2,789.8 L900.8,789.8 L900.8,836.7 L881.7,836.7 L881.7,789.8 L870,789.8 Z" fill="#2eb562"/>
<rect x="948" y="851" width="49" height="21" fill="#e8714a"/>
<text x="974" y="867" text-anchor="middle" font-family='"Liberation Sans", sans-serif' font-size="16" font-weight="bold" fill="#ffffff">12%</text>
<text x="25.7" y="889.3" font-family='"Liberation Sans", sans-serif' font-size="20" font-weight="normal" fill="#15181f" textLength="163.10000000000002" lengthAdjust="spacingAndGlyphs">1.000 Parity Level</text>
<text x="763.6" y="886.4" font-family='"Liberation Sans", sans-serif' font-size="21.5" font-weight="normal" fill="#d02121" stroke="#d02121" stroke-width="0.9" textLength="171.0" lengthAdjust="spacingAndGlyphs">Year-Risk: 1.000</text>
<rect x="766" y="896" width="164" height="22" fill="#fdfdfd"/>
<text x="768.5" y="913.7" font-family='"Liberation Sans", sans-serif' font-size="21.5" font-weight="normal" fill="#111111" stroke="#111111" stroke-width="0.95" textLength="157.29999999999995" lengthAdjust="spacingAndGlyphs">Probability: 10%</text>
<line x1="18" y1="922" x2="948" y2="922" stroke="#5d636d" stroke-width="2"/>
<line x1="947.5" y1="533" x2="947.5" y2="922" stroke="#5d636d" stroke-width="2"/>
<line x1="947" y1="578" x2="953" y2="578" stroke="#5d636d" stroke-width="2"/>
<line x1="947" y1="625.5" x2="953" y2="625.5" stroke="#5d636d" stroke-width="2"/>
<line x1="947" y1="673" x2="953" y2="673" stroke="#5d636d" stroke-width="2"/>
<line x1="947" y1="720" x2="953" y2="720" stroke="#5d636d" stroke-width="2"/>
<line x1="947" y1="767.5" x2="953" y2="767.5" stroke="#5d636d" stroke-width="2"/>
<line x1="947" y1="815" x2="953" y2="815" stroke="#5d636d" stroke-width="2"/>
<line x1="947" y1="910" x2="953" y2="910" stroke="#5d636d" stroke-width="2"/>
<line x1="76.5" y1="922" x2="76.5" y2="927" stroke="#5d636d" stroke-width="2"/>
<line x1="182.5" y1="922" x2="182.5" y2="927" stroke="#5d636d" stroke-width="2"/>
<line x1="290" y1="922" x2="290" y2="927" stroke="#5d636d" stroke-width="2"/>
<line x1="397.5" y1="922" x2="397.5" y2="927" stroke="#5d636d" stroke-width="2"/>
<line x1="505" y1="922" x2="505" y2="927" stroke="#5d636d" stroke-width="2"/>
<line x1="612.5" y1="922" x2="612.5" y2="927" stroke="#5d636d" stroke-width="2"/>
<line x1="719.5" y1="922" x2="719.5" y2="927" stroke="#5d636d" stroke-width="2"/>
<line x1="826" y1="922" x2="826" y2="927" stroke="#5d636d" stroke-width="2"/>
<line x1="933.5" y1="922" x2="933.5" y2="927" stroke="#5d636d" stroke-width="2"/>
<text x="959.5" y="537.8" clip-path="url(#cpL)" font-family='"Liberation Sans", sans-serif' font-size="15.3" fill="#68707b">00.0</text>
<text x="959.5" y="583.7" font-family='"Liberation Sans", sans-serif' font-size="15.3" fill="#68707b">15.0</text>
<text x="959.5" y="631.2" font-family='"Liberation Sans", sans-serif' font-size="15.3" fill="#68707b">16.0</text>
<text x="959.5" y="678.7" font-family='"Liberation Sans", sans-serif' font-size="15.3" fill="#68707b">0.50</text>
<text x="959.5" y="725.7" font-family='"Liberation Sans", sans-serif' font-size="15.3" fill="#68707b">15.0</text>
<text x="959.5" y="773.2" font-family='"Liberation Sans", sans-serif' font-size="15.3" fill="#68707b">0.50</text>
<text x="959.5" y="820.7" font-family='"Liberation Sans", sans-serif' font-size="15.3" fill="#68707b">0.00</text>
<text x="959.5" y="915.7" font-family='"Liberation Sans", sans-serif' font-size="15.3" fill="#68707b">0.00</text>
<text x="60.2" y="943.2" font-family='"Liberation Sans", sans-serif' font-size="15" fill="#68707b" textLength="32.6" lengthAdjust="spacingAndGlyphs">2021</text>
<text x="166.2" y="943.2" font-family='"Liberation Sans", sans-serif' font-size="15" fill="#68707b" textLength="32.6" lengthAdjust="spacingAndGlyphs">2023</text>
<text x="273.7" y="943.2" font-family='"Liberation Sans", sans-serif' font-size="15" fill="#68707b" textLength="32.6" lengthAdjust="spacingAndGlyphs">2023</text>
<text x="381.2" y="943.2" font-family='"Liberation Sans", sans-serif' font-size="15" fill="#68707b" textLength="32.6" lengthAdjust="spacingAndGlyphs">2024</text>
<text x="488.7" y="943.2" font-family='"Liberation Sans", sans-serif' font-size="15" fill="#68707b" textLength="32.6" lengthAdjust="spacingAndGlyphs">2023</text>
<text x="596.2" y="943.2" font-family='"Liberation Sans", sans-serif' font-size="15" fill="#68707b" textLength="32.6" lengthAdjust="spacingAndGlyphs">2028</text>
<text x="703.2" y="943.2" font-family='"Liberation Sans", sans-serif' font-size="15" fill="#68707b" textLength="32.6" lengthAdjust="spacingAndGlyphs">2024</text>
<text x="809.7" y="943.2" font-family='"Liberation Sans", sans-serif' font-size="15" fill="#68707b" textLength="32.6" lengthAdjust="spacingAndGlyphs">2029</text>
<text x="917.2" y="943.2" font-family='"Liberation Sans", sans-serif' font-size="15" fill="#68707b" textLength="32.6" lengthAdjust="spacingAndGlyphs">2028</text>
<path d="M968,944 Q972,964 992,968 Q972,972 968,992 Q964,972 944,968 Q964,964 968,944 Z" fill="#f3f4f6"/>
<text x="16.8" y="1004.4" font-family='"Liberation Sans", sans-serif' font-size="20.7" font-weight="normal" fill="#6a707c" textLength="797.2" lengthAdjust="spacingAndGlyphs">Data as of Jan 20, 2026. Forecasts are based current market data and subject to change.</text>
</svg>
</body></html>
